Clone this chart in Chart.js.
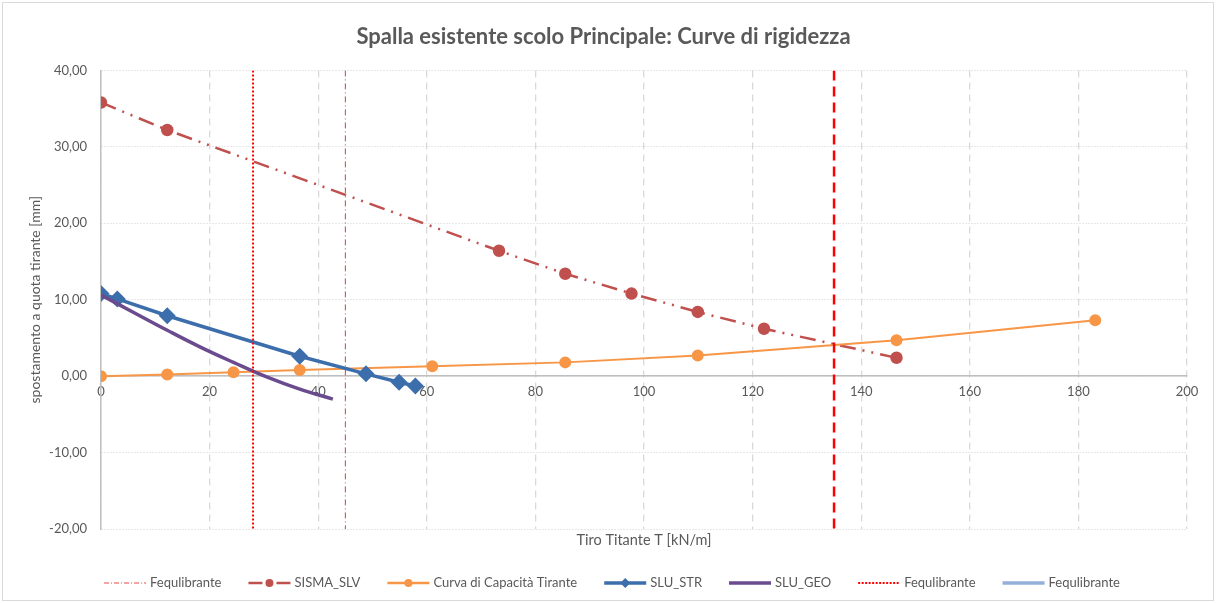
<!DOCTYPE html>
<html>
<head>
<meta charset="utf-8">
<script src="https://cdn.jsdelivr.net/npm/chart.js@4"></script>
<style>
    body { margin: 0; background: #fff; }
    #box { width: 1216px; height: 603px; }
</style>
</head>
<body>
<div id="box"><canvas id="grafico"></canvas></div>
<script>
/*
    ********************************
        dati
    ********************************
*/
const xSisma = [0, 12.2, 73.3, 85.5, 97.7, 109.9, 122.1, 146.5];
const ySisma = [35.8, 32.2, 16.4, 13.4, 10.8, 8.4, 6.2, 2.4];

const xCapacita = [0, 12.2, 24.4, 36.6, 61.0, 85.5, 109.9, 146.5, 183.1];
const yCapacita = [0, 0.2, 0.5, 0.8, 1.3, 1.8, 2.7, 4.7, 7.3];

const xStr = [0, 3.0, 12.2, 36.6, 48.8, 54.9, 57.9];
const yStr = [10.8, 10.1, 7.9, 2.6, 0.3, -0.8, -1.3];

const xGeo = [0, 6.1, 12.2, 18.3, 24.4, 30.5, 36.6, 42.7];
const yGeo = [10.6, 8.3, 6.0, 3.8, 1.8, -0.1, -1.7, -3.0];

// linee verticali di equilibrio
const xEquilibrio1 = 45;
const xEquilibrio2 = 28;
const xEquilibrio3 = 135;
const yVerticale = [40, -20];

const xTicks = [0, 20, 40, 60, 80, 100, 120, 140, 160, 180, 200];
const yTicks = [-20, -10, 0, 10, 20, 30, 40];

const etichette = ["Fequlibrante", "SISMA_SLV", "Curva di Capacità Tirante", "SLU_STR", "SLU_GEO", "Fequlibrante", "Fequlibrante"];

function punti(xs, ys) {
    const out = [];
    for (let i = 0; i < xs.length; i++) {
        out.push({ x: xs[i], y: ys[i] });
    }
    return out;
}

function verticale(x) {
    return yVerticale.map(y => ({ x: x, y: y }));
}

const grigio = "#595959";

/*
    ********************************
    legenda disegnata a mano
    (linea + marcatore come excel)
    ********************************
*/
const legendaExcel = {
    id: "legendaExcel",
    beforeDraw(chart) {
        const ctx = chart.ctx;
        ctx.save();
        ctx.fillStyle = "#fff";
        ctx.fillRect(0, 0, chart.width, chart.height);
        ctx.strokeStyle = "#d9d9d9";
        ctx.lineWidth = 1;
        ctx.strokeRect(2.5, 2.5, chart.width - 5, chart.height - 5);
        ctx.restore();
    },
    afterDraw(chart) {
        const ctx = chart.ctx;
        const lungLinea = 42, gap = 4, spazio = 27;
        const y = 583;
        ctx.save();
        ctx.font = "13px Lato";
        const items = chart.data.datasets.map(ds => ({ ds: ds, w: ctx.measureText(ds.label).width }));
        let totale = 0;
        items.forEach(it => totale += lungLinea + gap + it.w);
        totale += spazio * (items.length - 1);
        let x = (chart.width - totale) / 2 + 4;

        items.forEach(it => {
            const leg = it.ds.legenda;
            ctx.strokeStyle = leg.colore;
            ctx.lineWidth = leg.spessore;
            ctx.setLineDash(leg.tratto);
            ctx.beginPath();
            ctx.moveTo(x, y);
            ctx.lineTo(x + lungLinea, y);
            ctx.stroke();
            ctx.setLineDash([]);
            const cx = x + lungLinea / 2;
            if (leg.marcatore === "cerchio") {
                ctx.fillStyle = leg.colore;
                ctx.beginPath();
                ctx.arc(cx, y, 4, 0, Math.PI * 2);
                ctx.fill();
            } else if (leg.marcatore === "rombo") {
                ctx.fillStyle = leg.colore;
                ctx.beginPath();
                ctx.moveTo(cx, y - 5);
                ctx.lineTo(cx + 5, y);
                ctx.lineTo(cx, y + 5);
                ctx.lineTo(cx - 5, y);
                ctx.closePath();
                ctx.fill();
            }
            ctx.fillStyle = grigio;
            ctx.textBaseline = "middle";
            ctx.fillText(it.ds.label, x + lungLinea + gap, y);
            x += lungLinea + gap + it.w + spazio;
        });
        ctx.restore();
    }
};

const datasets = [
    {
        label: etichette[0],
        data: verticale(xEquilibrio1),
        borderColor: "#e03a3a",
        borderWidth: 1,
        borderDash: [6, 3, 1, 3],
        pointRadius: 0,
        legenda: { colore: "#f4a3a3", spessore: 2, tratto: [5, 2, 1, 2], marcatore: null }
    },
    {
        label: etichette[1],
        data: punti(xSisma, ySisma),
        borderColor: "#c0504d",
        backgroundColor: "#c0504d",
        borderWidth: 2.5,
        borderDash: [16, 7, 2, 7, 2, 7],
        pointRadius: 5,
        pointStyle: "circle",
        legenda: { colore: "#c0504d", spessore: 2.5, tratto: [14, 6, 2, 6], marcatore: "cerchio" }
    },
    {
        label: etichette[2],
        data: punti(xCapacita, yCapacita),
        borderColor: "#f79646",
        backgroundColor: "#f79646",
        borderWidth: 2,
        pointRadius: 5,
        pointStyle: "circle",
        legenda: { colore: "#f79646", spessore: 2.5, tratto: [], marcatore: "cerchio" }
    },
    {
        label: etichette[3],
        data: punti(xStr, yStr),
        borderColor: "#3c6eac",
        backgroundColor: "#3c6eac",
        borderWidth: 3.5,
        pointRadius: 6,
        pointStyle: "rectRot",
        legenda: { colore: "#3c6eac", spessore: 3.5, tratto: [], marcatore: "rombo" }
    },
    {
        label: etichette[4],
        data: punti(xGeo, yGeo),
        borderColor: "#6a4b8e",
        borderWidth: 3.5,
        tension: 0.4,
        pointRadius: 0,
        legenda: { colore: "#6a4b8e", spessore: 3.5, tratto: [], marcatore: null }
    },
    {
        label: etichette[5],
        data: verticale(xEquilibrio2),
        borderColor: "#ff0000",
        borderWidth: 2,
        borderDash: [2, 2],
        pointRadius: 0,
        legenda: { colore: "#ff0000", spessore: 2, tratto: [2, 1.5], marcatore: null }
    },
    {
        label: etichette[6],
        data: verticale(xEquilibrio3),
        borderColor: "#ff0000",
        borderWidth: 2.5,
        borderDash: [10, 6],
        pointRadius: 0,
        legenda: { colore: "#95b0d8", spessore: 3.5, tratto: [], marcatore: null }
    }
];

const config = {
    type: "scatter",
    data: { datasets: datasets.map((d, i) => Object.assign({ showLine: true, fill: false, order: 10 - i }, d)) },
    options: {
        responsive: true,
        maintainAspectRatio: false,
        animation: false,
        layout: { padding: { top: 0, left: 20, right: 29, bottom: 46 } },
        plugins: {
            legend: { display: false },
            tooltip: { enabled: false },
            title: {
                display: true,
                text: "Spalla esistente scolo Principale: Curve di rigidezza",
                color: grigio,
                font: { family: "Lato", size: 22, weight: "bold" },
                padding: { top: 24, bottom: 20 }
            }
        },
        scales: {
            x: {
                type: "linear",
                position: { y: 0 },
                min: 0,
                max: 200,
                afterBuildTicks: scale => { scale.ticks = xTicks.map(v => ({ value: v })); },
                ticks: { color: grigio, font: { family: "Lato", size: 13 }, padding: 8 },
                grid: { color: "#d9d9d9", lineWidth: 1.3, drawTicks: false },
                border: { display: true, color: "#bfbfbf", width: 1.5, dash: [7, 5] }
            },
            xTitolo: {
                type: "linear",
                position: "bottom",
                min: 0,
                max: 200,
                afterFit: scale => { scale.height = 28; },
                ticks: { display: false },
                grid: { display: false },
                border: { display: false },
                title: {
                    display: true,
                    text: "Tiro Titante T [kN/m]",
                    color: grigio,
                    font: { family: "Lato", size: 14.5 },
                    padding: { top: 0, bottom: 8 }
                }
            },
            y: {
                type: "linear",
                min: -20,
                max: 40,
                afterFit: scale => { scale.width = 81; },
                afterBuildTicks: scale => { scale.ticks = yTicks.map(v => ({ value: v })); },
                ticks: {
                    color: grigio,
                    font: { family: "Lato", size: 13 },
                    padding: 14,
                    callback: v => v.toFixed(2).replace(".", ",")
                },
                grid: { color: "#d0d0d0", lineWidth: 1, drawTicks: false },
                border: { display: true, color: "#bfbfbf", width: 1.5, dash: [1, 2] },
                title: {
                    display: true,
                    text: "spostamento a quota tirante [mm]",
                    color: grigio,
                    font: { family: "Lato", size: 14 },
                    padding: { top: 7, bottom: 0 }
                }
            }
        }
    },
    plugins: [legendaExcel]
};

const grafico = new Chart(document.querySelector("#grafico"), config);
</script>
</body>
</html>
